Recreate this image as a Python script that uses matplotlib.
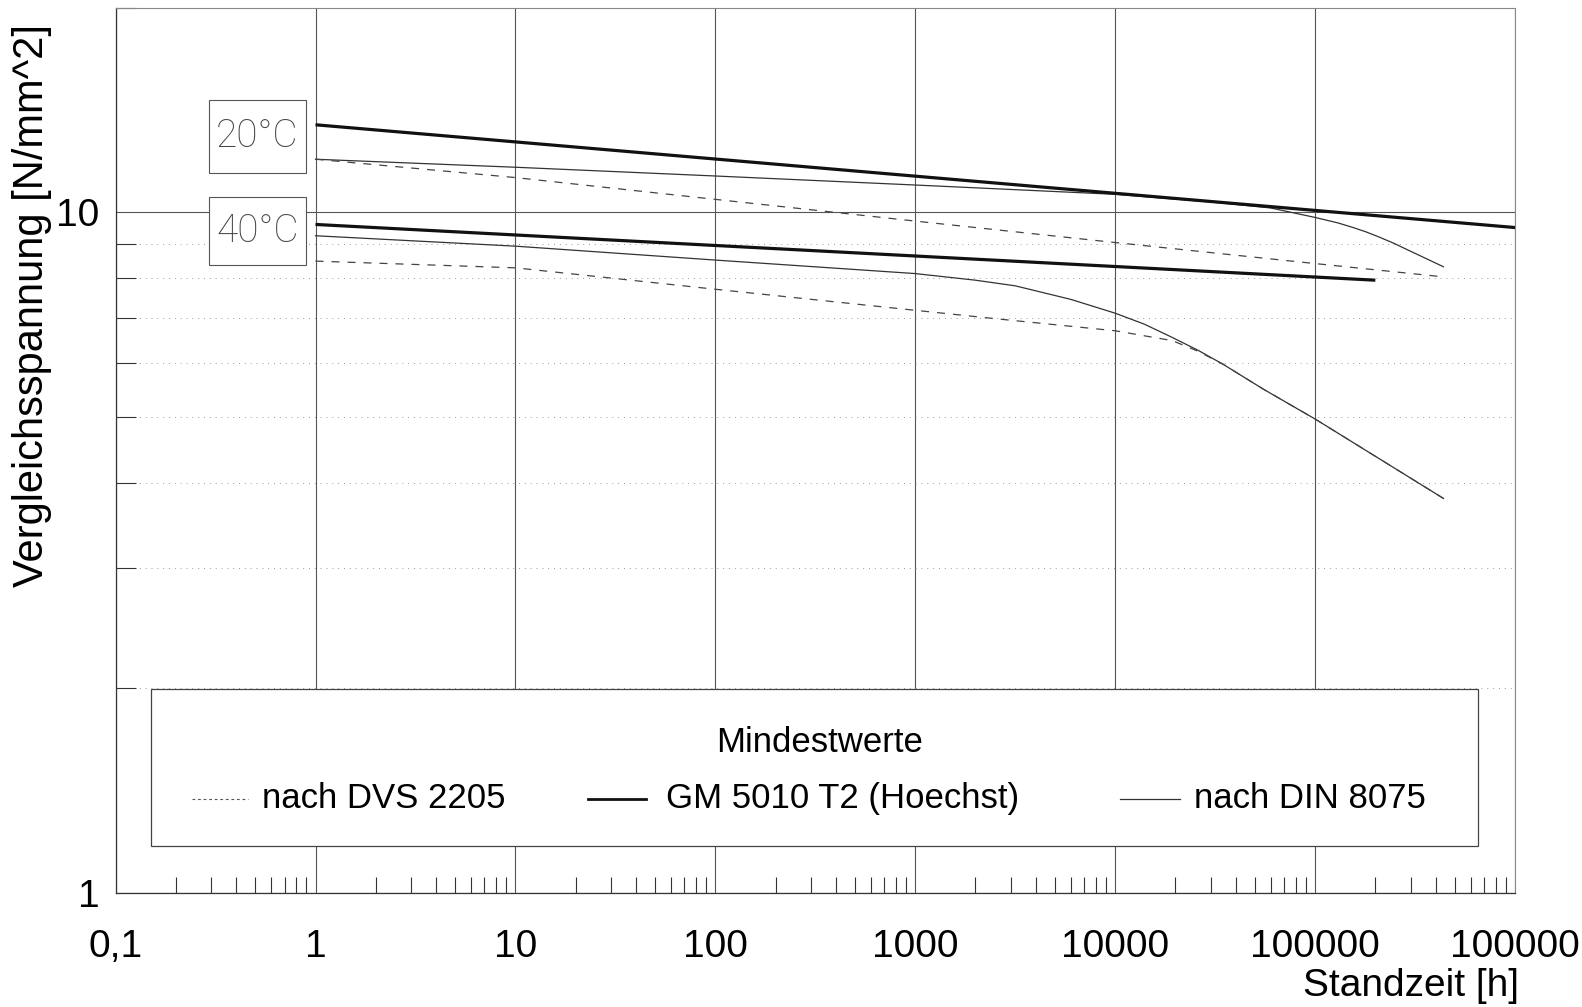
import matplotlib
matplotlib.use("Agg")
import matplotlib.pyplot as plt
from matplotlib.patches import Rectangle
from matplotlib.ticker import FixedLocator, LogLocator, NullFormatter

plt.rcParams['font.family'] = ['Liberation Sans', 'DejaVu Sans']

# x tick labels (decades)
x_ticks = [0.1, 1, 10, 100, 1000, 10000, 100000, 1000000]
x_ticklabels = ["0,1", "1", "10", "100", "1000", "10000", "100000", "100000"]
y_ticks = [1, 10]
y_ticklabels = ["1", "10"]

# 20 °C curves
gm20_x = [1, 1e6]
gm20_y = [13.45, 9.50]
din20_x = [1, 10, 100, 1000, 1e4, 3e4, 6e4, 1e5, 1.3e5, 1.55e5, 1.8e5, 2.05e5, 2.45e5, 2.9e5, 3.6e5, 4.38e5]
din20_y = [11.97, 11.65, 11.31, 10.97, 10.63, 10.36, 10.15, 9.83, 9.65, 9.5, 9.36, 9.22, 9.02, 8.81, 8.55, 8.32]
dvs20_x = [1, 10, 100, 1000, 1e4, 1e5, 4.38e5]
dvs20_y = [11.97, 11.25, 10.45, 9.71, 9.03, 8.41, 8.04]

# 40 °C curves
gm40_x = [1, 2e5]
gm40_y = [9.60, 7.95]
din40_x = [1, 10, 100, 1000, 2000, 3162, 6000, 1e4, 1.4e4, 1.93e4, 2.6e4, 3.47e4, 5.5e4, 1e5, 4.38e5]
din40_y = [9.24, 8.92, 8.51, 8.13, 7.95, 7.80, 7.45, 7.11, 6.85, 6.55, 6.27, 5.98, 5.50, 4.97, 3.80]
dvs40_x = [1, 10, 100, 1000, 2630, 1e4, 1.93e4, 2.6e4, 3.47e4, 5.5e4, 1e5, 4.38e5]
dvs40_y = [8.48, 8.29, 7.71, 7.18, 6.97, 6.70, 6.48, 6.25, 5.98, 5.50, 4.97, 3.80]

legend_title = "Mindestwerte"
legend_labels = ["nach DVS 2205", "GM 5010 T2 (Hoechst)", "nach DIN 8075"]

fig = plt.figure(figsize=(15.82, 10.07), dpi=100)
ax = fig.add_axes([0.07307, 0.11321, 0.88463, 0.87934])
ax.set_xscale('log')
ax.set_yscale('log')
ax.set_xlim(0.1, 1e6)
ax.set_ylim(1, 20)

dash = (0, (6.4, 6.4))
gm_kw = dict(color='#111111', lw=2.3, solid_capstyle='butt', zorder=4)
din_kw = dict(color='#333333', lw=0.9, zorder=3)
dvs_kw = dict(color='#444444', lw=0.9, ls=dash, zorder=3)

ax.plot(gm20_x, gm20_y, **gm_kw)
ax.plot(din20_x, din20_y, **din_kw)
ax.plot(dvs20_x, dvs20_y, **dvs_kw)
ax.plot(gm40_x, gm40_y, **gm_kw)
ax.plot(din40_x, din40_y, **din_kw)
ax.plot(dvs40_x, dvs40_y, **dvs_kw)

# ticks
ax.xaxis.set_major_locator(FixedLocator(x_ticks))
ax.set_xticklabels(x_ticklabels)
ax.xaxis.set_minor_locator(LogLocator(base=10, subs=range(2, 10), numticks=20))
ax.xaxis.set_minor_formatter(NullFormatter())
ax.yaxis.set_major_locator(FixedLocator(y_ticks))
ax.set_yticklabels(y_ticklabels)
ax.yaxis.set_minor_locator(LogLocator(base=10, subs=range(2, 10), numticks=20))
ax.yaxis.set_minor_formatter(NullFormatter())

ax.tick_params(axis='x', which='major', length=0, pad=26, labelsize=28)
ax.tick_params(axis='x', which='minor', direction='in', length=11.5, width=0.8,
               color='#333333', top=False)
ax.tick_params(axis='y', which='major', length=0, pad=11.5, labelsize=28)
ax.tick_params(axis='y', which='minor', direction='in', length=14.4, width=0.8,
               color='#333333', right=False)

ax.grid(which='major', axis='x', color='#555555', lw=0.8, ls='-')
ax.grid(which='major', axis='y', color='#555555', lw=0.8, ls='-')
ax.grid(which='minor', axis='y', color='#999999', lw=0.7, ls=(0, (1, 5)))

for side in ['left', 'bottom']:
    ax.spines[side].set_color('#333333')
    ax.spines[side].set_linewidth(0.9)
for side in ['top', 'right']:
    ax.spines[side].set_color('#888888')
    ax.spines[side].set_linewidth(0.8)

fig.text(0.0205, 0.697, "Vergleichsspannung [N/mm^2]", rotation=90,
         ha='center', va='center', fontsize=30)
fig.text(0.9600, 0.003, "Standzeit [h]", ha='right', va='bottom', fontsize=28)

# temperature boxes
for (y0, y1, label) in [(0.8134, 0.8955, "20°C"), (0.7092, 0.7863, "40°C")]:
    ax.add_patch(Rectangle((0.0670, y0), 0.0688, y1 - y0, transform=ax.transAxes,
                           facecolor='white', edgecolor='#555555', lw=0.8, zorder=5))
    ax.text(0.1014, (y0 + y1) / 2, label, transform=ax.transAxes, ha='center',
            va='center', fontsize=28, color='#444444', fontweight=100,
            family=['Roboto', 'Lato', 'DejaVu Sans'], zorder=6)

# legend box
ax.add_patch(Rectangle((0.0253, 0.0531), 0.9483, 0.1773, transform=ax.transAxes,
                       facecolor='white', edgecolor='#444444', lw=0.9, zorder=5))
ax.text(0.5027, 0.1705, legend_title, transform=ax.transAxes, ha='center',
        va='center', fontsize=25, zorder=6)
ly = 0.1062
ax.plot([0.0546, 0.0946], [ly, ly], transform=ax.transAxes, color='#555555',
        lw=0.8, ls=(0, (2.5, 2.5)), zorder=6)
ax.text(0.1046, ly, legend_labels[0], transform=ax.transAxes, ha='left',
        va='center', fontsize=25, zorder=6)
ax.plot([0.3376, 0.3790], [ly, ly], transform=ax.transAxes, color='#111111',
        lw=2.0, zorder=6)
ax.text(0.3933, ly, legend_labels[1], transform=ax.transAxes, ha='left',
        va='center', fontsize=25, zorder=6)
ax.plot([0.7177, 0.7606], [ly, ly], transform=ax.transAxes, color='#333333',
        lw=0.9, zorder=6)
ax.text(0.7706, ly, legend_labels[2], transform=ax.transAxes, ha='left',
        va='center', fontsize=25, zorder=6)

fig.savefig("out.png", dpi=100, facecolor='white')
